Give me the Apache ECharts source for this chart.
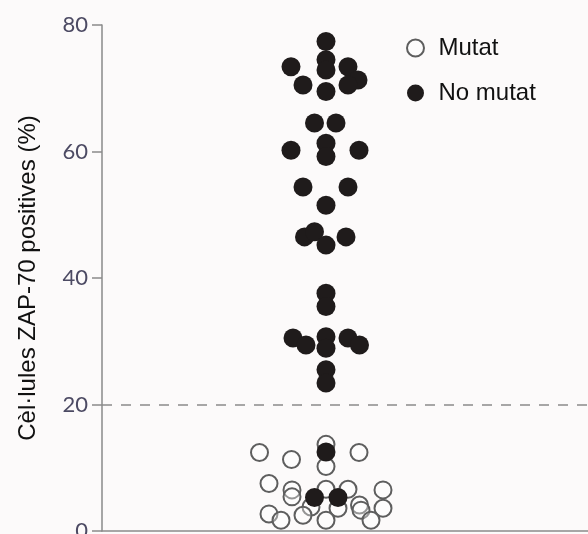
<!DOCTYPE html>
<html>
<head>
<meta charset="utf-8">
<script src="https://cdn.jsdelivr.net/npm/echarts@6/dist/echarts.min.js"></script>
<style>
  html, body { margin: 0; padding: 0; background: #fcfafa; }
  #chart { width: 588px; height: 534px; }
</style>
</head>
<body>
<div id="chart"></div>
<script>
// values (%) and horizontal swarm offsets
const mutatValues = [12.4, 11.3, 13.7, 10.2, 12.4, 7.5, 6.5, 5.4, 6.6, 6.6, 6.5, 3.8, 3.6, 4.1, 3.3, 3.6, 2.7, 1.7, 2.5, 1.7, 1.7]
const mutatOffsets = [-66.5, -34.5, 0, 0, 33, -57, -34, -34, 0, 22, 57, -15, 12, 33.5, 35, 57, -57, -45, -23, 0, 45]

const noMutatValues = [77.4, 73.4, 74.5, 72.9, 73.4, 71.3, 70.5, 70.5, 69.5, 64.5, 64.5, 60.2, 61.3, 59.2, 60.2,
  54.4, 54.4, 51.5, 46.5, 47.3, 45.2, 46.5, 37.6, 35.5, 30.5, 29.4, 30.7, 28.9, 30.5, 29.4, 25.5, 23.4, 12.5, 5.3, 5.3]
const noMutatOffsets = [0, -35, 0, 0, 22, 32, 22, -23, 0, -11.5, 10, -35, 0, 0, 33, -23, 22, 0, -21.5, -11.5, 0, 20,
  0, 0, -33, -20, 0, 0, 22, 33.5, 0, 0, 0, -11.5, 12]

const yTicks = [0, 20, 40, 60, 80]
const cutoff = 20

const axisGray = '#8a8a8a'

function pairs(offsets, values) {
  return values.map((v, ii) => [offsets[ii], v])
}

const chart = echarts.init(document.getElementById('chart'))
chart.setOption({
  backgroundColor: '#fcfafa',
  animation: false,
  grid: { left: 102, right: 0, top: 25, bottom: 3, outerBoundsMode: 'none' },
  legend: {
    orient: 'vertical',
    left: 401,
    top: 31,
    itemWidth: 36,
    itemHeight: 17,
    itemGap: 21,
    icon: 'circle',
    textStyle: { fontFamily: 'Liberation Sans, Arial', fontSize: 24, color: '#111' },
    data: ['Mutat', 'No mutat'],
  },
  xAxis: {
    type: 'value',
    min: -224,
    max: 262,
    axisLine: { show: true, onZero: false, lineStyle: { color: axisGray, width: 1.5 } },
    axisTick: { show: false },
    axisLabel: { show: false },
    splitLine: { show: false },
  },
  yAxis: {
    type: 'value',
    min: yTicks[0],
    max: yTicks[yTicks.length - 1],
    interval: 20,
    name: 'Cèl·lules ZAP-70 positives (%)',
    nameLocation: 'middle',
    nameGap: 62,
    nameTextStyle: { fontFamily: 'Liberation Sans, Arial', fontSize: 24, color: '#111' },
    axisLine: { show: true, onZero: false, lineStyle: { color: axisGray, width: 1.5 } },
    axisTick: { show: true, length: 10, lineStyle: { color: axisGray, width: 1.5 } },
    axisLabel: { fontFamily: 'Lato', fontSize: 22, color: '#4c4a63', margin: 14 },
    splitLine: { show: false },
  },
  series: [
    {
      name: 'Mutat',
      type: 'scatter',
      symbol: 'circle',
      symbolSize: 17,
      data: pairs(mutatOffsets, mutatValues),
      itemStyle: { color: 'rgba(255,255,255,0.35)', borderColor: '#5e5e5e', borderWidth: 2, opacity: 1 },
      z: 2,
    },
    {
      name: 'No mutat',
      type: 'scatter',
      symbol: 'circle',
      symbolSize: 19,
      data: pairs(noMutatOffsets, noMutatValues),
      itemStyle: { color: '#1f1b1b', opacity: 1 },
      z: 3,
      markLine: {
        silent: true,
        symbol: 'none',
        label: { show: false },
        lineStyle: { color: '#8a8a8a', width: 1.5, type: [10, 9] },
        data: [{ yAxis: cutoff }],
      },
    },
  ],
})
</script>
</body>
</html>
